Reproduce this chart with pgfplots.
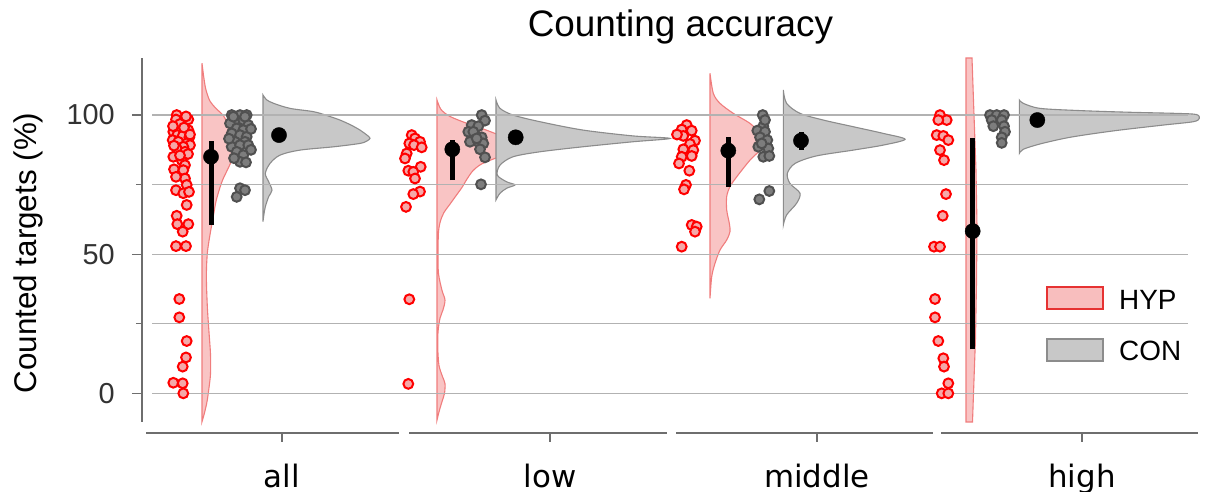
\documentclass[border=0pt]{standalone}
\usepackage{fontspec}
\setmainfont{Liberation Sans}
\newfontfamily\dvs{DejaVu Sans}
\usepackage{pgfplots}
\pgfplotsset{compat=1.18}
\definecolor{spine}{RGB}{110,110,110}
\definecolor{ticktext}{RGB}{50,50,50}
\definecolor{gridc}{RGB}{178,178,178}
\definecolor{vred}{RGB}{249,196,196}
\definecolor{vrededge}{RGB}{240,125,125}
\definecolor{vgray}{RGB}{200,200,200}
\definecolor{vgrayedge}{RGB}{140,140,140}
\definecolor{dotred}{RGB}{245,168,168}
\definecolor{dotgray}{RGB}{125,125,125}
\definecolor{dotgrayedge}{RGB}{80,80,80}
\definecolor{legred}{RGB}{230,50,50}
\definecolor{legredfill}{RGB}{248,190,190}
\pgfplotsset{
  vr/.style={draw=vrededge, fill=vred, line width=1.1bp, smooth, tension=0.5, forget plot},
  vg/.style={draw=vgrayedge, fill=vgray, line width=1.1bp, smooth, tension=0.5, forget plot},
  dr/.style={only marks, mark=*, mark size=4.9bp, mark options={draw=red, fill=dotred, line width=2bp}, forget plot},
  dg/.style={only marks, mark=*, mark size=4.9bp, mark options={draw=dotgrayedge, fill=dotgray, line width=2bp}, forget plot},
  eb/.style={black, line width=5bp, forget plot},
  mn/.style={only marks, mark=*, mark size=7.6bp, black, forget plot},
}
\begin{document}
\begin{tikzpicture}
\begin{axis}[
  at={(142bp,70bp)}, anchor=south west,
  width=1058bp, height=364bp, scale only axis,
  xmin=142, xmax=1200, ymin=-10.3, ymax=120.5,
  clip=false,
  axis x line=none,
  axis y line*=left,
  y axis line style={draw=spine, line width=1.5bp, -},
  ytick={0,50,100},
  minor ytick={25,75},
  major tick length=10bp, minor tick length=6bp,
  tick align=outside,
  tick style={draw=spine, line width=1.2bp},
  yticklabel style={font=\fontsize{29}{30}\selectfont, text=ticktext, anchor=east, inner sep=0pt, xshift=-17bp},
  /pgf/number format/assume math mode=true,
]
% violins
\addplot[vr] coordinates {(202,118.6) (204,113) (206,109) (210,105) (217,102) (223,100) (229,96) (233,92) (234,88) (232,84) (227,80) (223,77) (220,74) (216,69) (213,63) (210,57) (207.5,51) (206.5,45) (206.5,39) (207.5,30) (209,22) (210.5,14) (210.5,7) (209,2) (207,-3) (204.5,-7) (202,-10.2)} -- cycle;
\addplot[vg] coordinates {(263,107.2) (266.5,105.5) (273.7,104.2) (290,102.4) (313.7,101.2) (328,99.7) (340,98.2) (351,96.4) (360,94.6) (368,92.5) (370,91.6) (367,90.7) (360,89.8) (334,88.6) (300,87.4) (280,85.6) (270,82.6) (265.3,79) (268.7,76) (272,73) (268.7,70.7) (265.3,67) (263.8,64) (263,61.7)} -- cycle;
\addplot[vr] coordinates {(437,105.4) (441,102) (450,99.5) (467,97) (487,94.5) (504,92) (512,90) (515,88.6) (511,87) (499,85) (482,82.5) (473,80) (467,77) (462,74) (456,71) (450,68) (444,65) (440.5,62) (438.5,58) (438,50) (438.5,43) (442,37) (445,33.5) (443,30) (440,27) (438,22) (437.8,16) (439,10) (442.5,6) (445,3.5) (444.5,0) (442,-3) (439.5,-6) (437,-9.6)} -- cycle;
\addplot[vg] coordinates {(496,105.4) (500,102.4) (513,100) (540,97.6) (583,94.6) (633,92.5) (670,91.6) (633,90.4) (583,88.6) (540,86.8) (513,85) (500,82) (497.3,78.4) (506.7,76) (515,74.9) (506.7,73.7) (500,71.9) (496,69.5)} -- cycle;
\addplot[vr] coordinates {(710,115) (713.3,107.8) (720,104.2) (733.3,100.6) (750,97) (760,93.4) (763,90.4) (760,87.4) (750,83.8) (736.7,77.8) (730,74.3) (726.7,70.7) (726.7,65.9) (729.3,61.1) (730,58.1) (726.7,55.1) (720,51.5) (715,46.7) (711.7,41.9) (710,34.1)} -- cycle;
\addplot[vg] coordinates {(783.3,109) (786.6,104.2) (800,100.6) (823.3,98.2) (853.3,95.8) (883.3,93.4) (905,91.3) (883.3,89.2) (853.3,87.4) (816.3,85.3) (795,82.6) (787.3,79) (790,75.4) (800,71.9) (796.6,68.3) (786.6,64.1) (783.3,60.5)} -- cycle;
\addplot[draw=vrededge, fill=vred, line width=1.1bp, forget plot] coordinates {(966,120.5) (972,120.5) (974,100) (976,80) (977,60) (976.5,40) (975.5,20) (973.5,0) (972.5,-10.3) (966,-10.3)} -- cycle;
\addplot[vg] coordinates {(1019.3,105.4) (1023.3,104.2) (1040,102.4) (1080,101.6) (1130,101) (1176.3,100.6) (1196.3,100.2) (1199.3,98.8) (1193.3,97.6) (1163.3,96.4) (1113.3,94.3) (1070,92) (1040,89.6) (1023.3,87.7) (1019.3,86.2)} -- cycle;
% grid
\pgfplotsinvokeforeach{0,25,50,75,100}{\addplot[draw=gridc, line width=1.2bp, forget plot] coordinates {(152,#1) (1188,#1)};}
% HYP all
\addplot[dr] coordinates {(176.7,100) (188.3,98.4) (176,98.4) (180,96.8) (188.3,94.6) (173.3,94) (177.3,92.8) (182.7,92.5) (189.3,92) (172.7,91) (178.3,90.4) (186.7,89.8) (190,89.2) (183.3,88.6) (176.7,88) (185,86.8) (173.3,85) (181.7,83.8) (185,82) (174,80.5) (183.3,80.2) (185,77.2) (186.7,74.9) (176,73) (183.3,71.9) (186.7,67.7) (176.7,63.8) (177.3,60.8) (188.3,60.8) (182.7,58.1) (176,52.9) (186,52.9) (179.3,33.9) (179.3,27.3) (186.7,18.8) (186,12.9) (182.7,9.6) (173.3,3.8) (182.7,3.6) (183.3,0) (186,99.5) (173,96) (184,95.5) (190,93) (174,89) (188,86) (180,85.5) (176,77.8) (189,72.4)};
% CON all
\addplot[dg] coordinates {(231.7,100) (240,100) (246.7,100) (235,98.2) (243.3,98.2) (230,97) (248.3,96.4) (236.7,95.2) (243.3,94.6) (231.7,93.4) (240,92.8) (246.7,92.2) (235,90.4) (245,90.4) (231.7,88.6) (240,89.2) (248.3,89.2) (236.7,86.8) (243.3,85.6) (240,83.2) (240,73.7) (245,73) (236.7,70.6) (233.3,99.4) (245,99.4) (251,95) (229,91.5) (251,87.5) (234,84.5) (246,83)};
% HYP low
\addplot[dr] coordinates {(411.7,92.8) (415,91.6) (420,90.4) (409.3,89.8) (414,89.2) (421.7,88.4) (406.7,86.2) (405,84.4) (420.7,81.4) (408.3,80) (413.3,79.6) (415,77.2) (420,72.5) (413.3,71.6) (406,67) (409.3,33.8) (408.3,3.4)};
% CON low
\addplot[dg] coordinates {(481.7,100) (485,98) (471.7,96.4) (478.3,96) (468.3,94) (475,92.8) (481.7,92) (470,90.4) (478.3,90.4) (483.3,89.8) (480,87.7) (485,84.8) (481,75.1) (473.3,94) (476.7,91.6)};
% HYP middle
\addplot[dr] coordinates {(686.7,96.4) (681.7,94.8) (691.7,94.4) (683.3,92.5) (695,90.8) (690,89.6) (683.3,87.7) (693.3,87.4) (681.7,85) (691.7,85.3) (689.3,80) (686,74.9) (684,73.3) (691.7,60.5) (696.7,59.9) (695,58.1) (681.7,52.7) (677,93) (679,82.6)};
% CON middle
\addplot[dg] coordinates {(762.7,100) (763.3,96) (757.3,94.4) (765,94) (760,92) (767.3,91) (758.3,88.6) (768.3,88) (763.3,85) (769.3,85.3) (769.3,72.7) (759.3,69.7) (765,98.2) (761.7,89.8)};
% HYP high
\addplot[dr] coordinates {(940,100) (946.7,98.2) (938.3,98.2) (936.7,92.8) (943.3,92.5) (948.3,91) (940,87.4) (944,83.8) (946,71.6) (942.7,63.8) (934,52.7) (940,52.7) (935,33.9) (935,27.3) (938.3,18.8) (943.3,12.6) (944,9.6) (948.3,3.6) (941.7,0) (948.3,0)};
% CON high
\addplot[dg] coordinates {(990,100) (996.7,100) (1004,100) (991.7,98.2) (1001.7,98.2) (993.3,96) (1004,96) (1005,94) (1001.7,92) (1001.7,90)};
% means and error bars
\addplot[eb] coordinates {(211,60.5) (211,90.8)};
\addplot[mn] coordinates {(211,85)};
\addplot[eb] coordinates {(279,91.2) (279,94.4)};
\addplot[mn] coordinates {(279,92.8)};
\addplot[eb] coordinates {(452.3,76.6) (452.3,91)};
\addplot[mn] coordinates {(452.3,87.7)};
\addplot[eb] coordinates {(515.7,90.5) (515.7,93.5)};
\addplot[mn] coordinates {(515.7,92)};
\addplot[eb] coordinates {(728.3,74.3) (728.3,92.2)};
\addplot[mn] coordinates {(728.3,87.2)};
\addplot[eb] coordinates {(801,87.6) (801,94)};
\addplot[mn] coordinates {(801,90.8)};
\addplot[eb] coordinates {(972.7,15.8) (972.7,91.6)};
\addplot[mn] coordinates {(972.7,58.3)};
\addplot[eb] coordinates {(1037.3,97) (1037.3,99.5)};
\addplot[mn] coordinates {(1037.3,98.2)};
\end{axis}
% title
\node[anchor=base, inner sep=0pt, font=\fontsize{37}{42}\selectfont] at (680.5bp,455bp) {Counting accuracy};
% y label
\node[anchor=base, rotate=90, inner sep=0pt, font=\fontsize{31.5}{34}\selectfont] at (36.7bp,239bp) {Counted targets (\%)};
% bottom spines and category labels
\foreach \a/\b in {146/399, 409/667, 676/933, 941/1198} {\draw[spine, line width=1.5bp] (\a bp,59bp) -- (\b bp,59bp);}
\foreach \c/\t in {282/all, 550/low, 817/middle, 1082/high} {
  \draw[spine, line width=1.1bp] (\c bp,59bp) -- (\c bp,50bp);
  \node[anchor=base, inner sep=0pt, font=\dvs\fontsize{31}{34}\selectfont] at (\c bp,5bp) {\t};
}
% legend
\draw[draw=legred, fill=legredfill, line width=1.3bp] (1047bp,183bp) rectangle (1103bp,205bp);
\node[anchor=base west, inner sep=0pt, font=\fontsize{28}{30}\selectfont] at (1119bp,182bp) {HYP};
\draw[draw=vgrayedge, fill=vgray, line width=1.3bp] (1047bp,131bp) rectangle (1103bp,153bp);
\node[anchor=base west, inner sep=0pt, font=\fontsize{28}{30}\selectfont] at (1119bp,131bp) {CON};
\pgfresetboundingbox
\path[use as bounding box] (0bp,0bp) rectangle (1207bp,492bp);
\end{tikzpicture}
\end{document}
